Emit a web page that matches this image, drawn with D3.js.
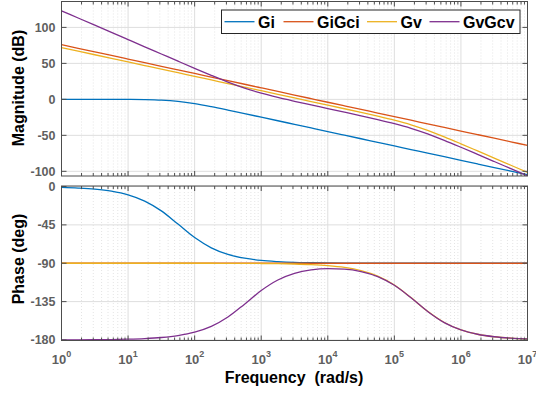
<!DOCTYPE html>
<html>
<head>
  <meta charset="utf-8">
  <title>Bode diagram</title>
  <script src="https://d3js.org/d3.v7.min.js"></script>
  <style>
    body { margin: 0; background: #fff; }
    svg { display: block; }
    text { font-family: Arial, "Liberation Sans", Helvetica, sans-serif; font-weight: bold; }
    .tick-label { fill: #5f5f5f; font-size: 12.5px; }
    .axis-title { fill: #000; font-size: 16px; }
    .legend-text { fill: #000; font-size: 16px; }
  </style>
</head>
<body>
  <svg width="536" height="394"></svg>
  <script>
    // frequency points (rad/s), quarter decade steps
    const freq = [1, 1.778, 3.162, 5.623, 10, 17.78, 31.62, 56.23, 100, 177.8, 316.2, 562.3,
      1e3, 1778, 3162, 5623, 1e4, 17783, 31623, 56234, 1e5, 177828, 316228, 562341,
      1e6, 1778279, 3162278, 5623413, 1e7];

    // magnitude (dB)
    const magGi = [0, 0, 0, -0.04, -0.13, -0.39, -1.13, -2.88, -5.99, -10.17, -14.87, -19.78,
      -24.75, -29.73, -34.73, -39.73, -44.73, -49.73, -54.73, -59.73, -64.73, -69.73, -74.73,
      -79.73, -84.73, -89.73, -94.73, -99.73, -104.73];
    const magGiGci = [76, 71, 66, 61, 56, 51, 46, 41, 36, 31, 26, 21, 16, 11, 6, 1, -4, -9,
      -14, -19, -24, -29, -34, -39, -44, -49, -54, -59, -64];
    const magGv = [72, 67, 62, 57, 52, 47, 42, 37, 32, 27, 22, 17, 12, 7, 2, -3, -8.01, -13.03,
      -18.1, -23.3, -28.89, -35.35, -43.14, -52.12, -61.74, -71.62, -81.57, -91.56, -101.56];
    const magGvGcv = [123.05, 113.05, 103.05, 93.05, 83.05, 73.05, 63.06, 53.08, 43.16, 33.39,
      24.05, 15.66, 8.61, 2.7, -2.64, -7.75, -12.79, -17.83, -22.9, -28.1, -33.69, -40.15,
      -47.94, -56.92, -66.54, -76.42, -86.37, -96.36, -106.36];

    // phase (deg)
    const phGi = [-1, -1.8, -3.1, -5.5, -9.8, -17.1, -28.6, -44.1, -59.9, -71.9, -79.6, -84.1,
      -86.7, -88.1, -89, -89.4, -89.7, -89.8, -89.9, -89.9, -90, -90, -90, -90, -90, -90,
      -90, -90, -90];
    const phGiGci = [-90, -90, -90, -90, -90, -90, -90, -90, -90, -90, -90, -90, -90, -90,
      -90, -90, -90, -90, -90, -90, -90, -90, -90, -90, -90, -90, -90, -90, -90];
    const phGv = [-90, -90, -90, -90, -90, -90, -90, -90, -90, -90, -90.09, -90.15, -90.27,
      -90.49, -90.86, -91.53, -92.73, -94.84, -98.57, -104.99, -115.46, -130.26, -146.41,
      -159.52, -168.14, -173.26, -176.2, -177.86, -178.8];
    const phGvGcv = [-179.9, -179.84, -179.71, -179.48, -179.08, -178.36, -177.08, -174.82,
      -170.84, -164.05, -153.07, -137.95, -122.07, -109.7, -101.96, -97.82, -96.28, -96.84,
      -99.69, -105.62, -115.82, -130.46, -146.52, -159.58, -168.18, -173.28, -176.21,
      -177.87, -178.81];

    const names = ["Gi", "GiGci", "Gv", "GvGcv"];
    const colors = ["#0072BD", "#D95319", "#EDB120", "#7E2F8E"];
    const magTicks = [-100, -50, 0, 50, 100];
    const phaseTicks = [-180, -135, -90, -45, 0];
    const decades = [1, 1e1, 1e2, 1e3, 1e4, 1e5, 1e6, 1e7];

    const svg = d3.select("svg");
    const left = 61.5, right = 527.5;

    const x = d3.scaleLog().domain([1, 1e7]).range([left, right]);

    // minor tick positions 2..9 for every decade
    const minors = [];
    decades.slice(0, -1).forEach(d => {
      for (let k = 2; k <= 9; k++) minors.push(d * k);
    });

    function panel(top, bottom, y, yTicks, series, xLabels) {
      const g = svg.append("g");

      // minor grid (dotted)
      g.selectAll("line.minor-grid")
        .data(minors)
        .enter()
        .append("line")
        .attr("x1", d => x(d)).attr("x2", d => x(d))
        .attr("y1", top).attr("y2", bottom)
        .attr("stroke", "#e4e4e4")
        .attr("stroke-dasharray", "1,2");

      // major grid
      g.selectAll("line.vgrid")
        .data(decades.slice(1, -1))
        .enter()
        .append("line")
        .attr("x1", d => x(d)).attr("x2", d => x(d))
        .attr("y1", top).attr("y2", bottom)
        .attr("stroke", "#dedede");
      g.selectAll("line.hgrid")
        .data(yTicks)
        .enter()
        .append("line")
        .attr("x1", left).attr("x2", right)
        .attr("y1", d => y(d)).attr("y2", d => y(d))
        .attr("stroke", "#dedede");

      // curves
      const line = d3.line()
        .x((d, i) => x(freq[i]))
        .y(d => y(d))
        .curve(d3.curveMonotoneX);
      const clipId = "clip" + Math.round(top);
      g.append("clipPath").attr("id", clipId)
        .append("rect")
        .attr("x", left).attr("y", top)
        .attr("width", right - left).attr("height", bottom - top);
      g.append("g").attr("clip-path", `url(#${clipId})`)
        .selectAll("path")
        .data(series)
        .enter()
        .append("path")
        .attr("d", d => line(d))
        .attr("fill", "none")
        .attr("stroke", (d, i) => colors[i])
        .attr("stroke-width", 1.3);

      // frame
      g.append("rect")
        .attr("x", left).attr("y", top)
        .attr("width", right - left).attr("height", bottom - top)
        .attr("fill", "none")
        .attr("stroke", "#4d4d4d")
        .attr("stroke-width", 1);

      // x ticks inside, top and bottom
      const tickColor = "#4d4d4d";
      [[bottom, -1], [top, 1]].forEach(([yy, dir]) => {
        g.selectAll(null)
          .data(decades)
          .enter()
          .append("line")
          .attr("x1", d => x(d)).attr("x2", d => x(d))
          .attr("y1", yy).attr("y2", yy + dir * 5)
          .attr("stroke", tickColor);
        g.selectAll(null)
          .data(minors)
          .enter()
          .append("line")
          .attr("x1", d => x(d)).attr("x2", d => x(d))
          .attr("y1", yy).attr("y2", yy + dir * 3)
          .attr("stroke", tickColor);
      });

      // y ticks inside, left and right
      [[left, 1], [right, -1]].forEach(([xx, dir]) => {
        g.selectAll(null)
          .data(yTicks)
          .enter()
          .append("line")
          .attr("x1", xx).attr("x2", xx + dir * 5)
          .attr("y1", d => y(d)).attr("y2", d => y(d))
          .attr("stroke", tickColor);
      });

      // y tick labels
      g.selectAll("text.ylab")
        .data(yTicks)
        .enter()
        .append("text")
        .attr("class", "tick-label")
        .attr("x", left - 6)
        .attr("y", d => y(d))
        .attr("dy", "0.36em")
        .attr("text-anchor", "end")
        .text(d => d);

      if (xLabels) {
        const t = g.selectAll("text.xlab")
          .data(decades)
          .enter()
          .append("text")
          .attr("class", "tick-label")
          .attr("x", d => x(d))
          .attr("y", bottom + 23)
          .attr("text-anchor", "middle");
        t.append("tspan").attr("font-size", 13).text("10");
        t.append("tspan")
          .attr("dy", -7)
          .attr("font-size", 9)
          .text(d => Math.round(Math.log10(d)));
      }
    }

    // magnitude panel
    const yMag = d3.scaleLinear().domain([-106.5, 136]).range([176, 1.5]);
    panel(1.5, 176, yMag, magTicks, [magGi, magGiGci, magGv, magGvGcv], false);

    // phase panel
    const yPh = d3.scaleLinear().domain([-180.6, 0.6]).range([340.5, 186]);
    panel(186, 340.5, yPh, phaseTicks, [phGi, phGiGci, phGv, phGvGcv], true);

    // axis titles
    svg.append("text").attr("class", "axis-title")
      .attr("transform", "translate(24,88) rotate(-90)")
      .attr("text-anchor", "middle")
      .text("Magnitude (dB)");
    svg.append("text").attr("class", "axis-title")
      .attr("transform", "translate(24,259) rotate(-90)")
      .attr("text-anchor", "middle")
      .text("Phase (deg)");
    svg.append("text").attr("class", "axis-title")
      .attr("x", 294).attr("y", 383)
      .attr("text-anchor", "middle")
      .attr("xml:space", "preserve")
      .style("white-space", "pre")
      .text("Frequency  (rad/s)");

    // legend
    const lg = svg.append("g");
    lg.append("rect")
      .attr("x", 221.5).attr("y", 10)
      .attr("width", 298.5).attr("height", 23.5)
      .attr("fill", "#fff")
      .attr("stroke", "#262626");
    const legendX = [224.5, 283.5, 367, 429.5];
    names.forEach((n, i) => {
      lg.append("line")
        .attr("x1", legendX[i]).attr("x2", legendX[i] + 30)
        .attr("y1", 21.7).attr("y2", 21.7)
        .attr("stroke", colors[i])
        .attr("stroke-width", 1.3);
      lg.append("text")
        .attr("class", "legend-text")
        .attr("x", legendX[i] + 33.5)
        .attr("y", 28)
        .text(n);
    });
  </script>
</body>
</html>
